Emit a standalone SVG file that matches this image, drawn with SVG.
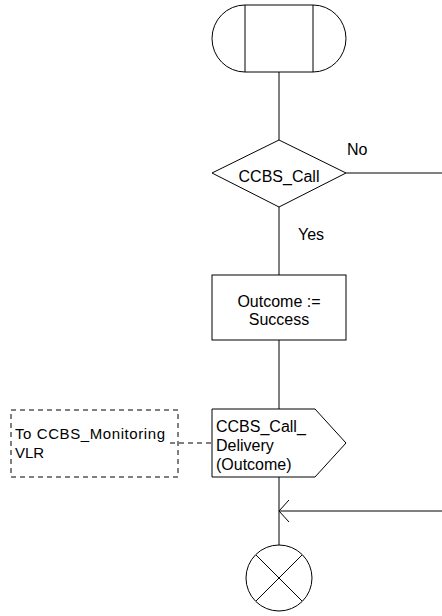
<svg xmlns="http://www.w3.org/2000/svg" width="442" height="616" viewBox="0 0 442 616">
<style>
.s{fill:#fff;stroke:#000;stroke-width:1}
.l{fill:none;stroke:#000;stroke-width:1}
.d{fill:none;stroke:#000;stroke-width:1;stroke-dasharray:5,4}
text{font-family:"Liberation Sans",Arial,sans-serif;font-size:16px;fill:#000}
.c{font-size:15px}
</style>
<rect width="442" height="616" fill="#fff"/>
<g id="connectors">
<line class="l" x1="279" y1="72" x2="279" y2="140"/>
<line class="l" x1="346" y1="173" x2="442" y2="173"/>
<line class="l" x1="279" y1="207" x2="279" y2="275"/>
<line class="l" x1="279" y1="340" x2="279" y2="409"/>
<line class="l" x1="279" y1="477" x2="279" y2="545"/>
<line class="l" x1="442" y1="511" x2="279" y2="511"/>
<polyline class="l" points="289,500 279,511 289,522"/>
<line class="d" x1="170" y1="443" x2="212" y2="443"/>
<text x="347" y="155">No</text>
<text x="298" y="240">Yes</text>
</g>
<g id="start">
<path class="s" d="M245,5 H313 V72 H245 Z"/>
<path class="l" d="M245,5 A33,33.5 0 0 0 245,72"/>
<path class="l" d="M313,5 A33,33.5 0 0 1 313,72"/>
</g>
<g id="decision">
<polygon class="s" points="279,140 346,173 279,207 212,173"/>
<text x="279" y="182" text-anchor="middle">CCBS_Call</text>
</g>
<g id="task">
<rect class="s" x="212" y="275" width="134" height="65"/>
<text x="279" y="307" text-anchor="middle">Outcome :=</text>
<text x="279" y="325" text-anchor="middle">Success</text>
</g>
<g id="output">
<polygon class="s" points="212,409 315,409 346,443 315,477 212,477"/>
<text x="216" y="432">CCBS_Call_</text>
<text x="216" y="451">Delivery</text>
<text x="216" y="470">(Outcome)</text>
</g>
<g id="comment">
<rect class="d" x="11" y="410" width="167" height="67"/>
<text class="c" x="15" y="439" textLength="150" lengthAdjust="spacing">To CCBS_Monitoring</text>
<text class="c" x="15" y="458">VLR</text>
</g>
<g id="stop">
<circle class="s" cx="279" cy="578" r="33"/>
<line class="l" x1="256" y1="555" x2="302" y2="601"/>
<line class="l" x1="302" y1="555" x2="256" y2="601"/>
</g>
</svg>
